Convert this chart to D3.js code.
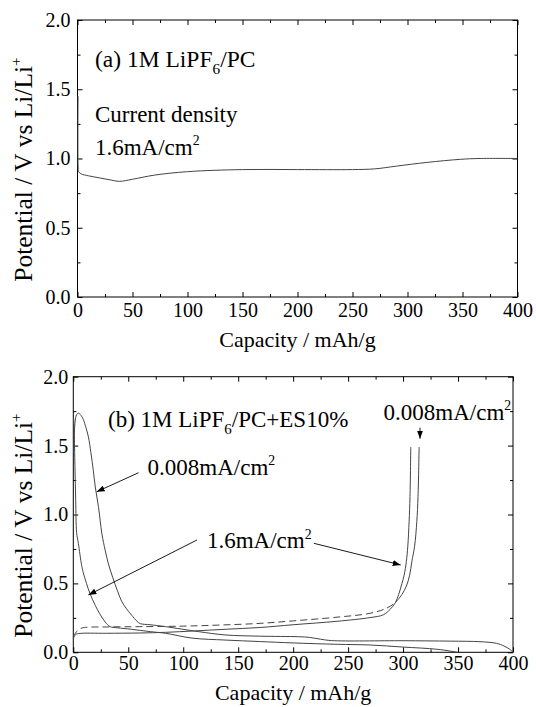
<!DOCTYPE html>
<html>
<head>
<meta charset="utf-8">
<script src="https://cdn.jsdelivr.net/npm/d3@7"></script>
<style>
  body { margin: 0; background: #fff; }
  svg text { font-family: "Liberation Serif", "Times New Roman", serif; fill: #000; }
</style>
</head>
<body>
<div id="chart"></div>
<script>
// (a) 1M LiPF6/PC, 1.6 mA/cm2
var topCap = [0.5, 0.6, 1, 3, 10, 20, 30, 38, 50, 70, 100, 150, 200, 250, 270, 290, 318, 348, 365, 400];
var topV   = [1.45, 0.93, 0.905, 0.89, 0.875, 0.86, 0.845, 0.835, 0.85, 0.88, 0.905, 0.92, 0.92, 0.92, 0.925, 0.945, 0.972, 0.994, 1.0, 1.0];

// (b) 1M LiPF6/PC+ES10%
// discharge, 1.6 mA/cm2
var disFastCap = [0.3, 0.8, 1.5, 2.2, 3, 4.6, 7.6, 9, 12, 15, 20, 24, 29, 33.5, 40, 53, 70, 84, 108, 138, 170, 200, 240, 270, 300, 331, 349.5];
var disFastV   = [1.7, 1.6, 1.35, 1.1, 0.87, 0.79, 0.63, 0.58, 0.5, 0.43, 0.34, 0.28, 0.22, 0.186, 0.178, 0.167, 0.15, 0.138, 0.103, 0.089, 0.078, 0.068, 0.058, 0.053, 0.038, 0.022, 0];
// discharge, 0.008 mA/cm2
var disSlowCap = [0.3, 1.5, 3, 4.6, 7, 9.1, 11.5, 13.7, 16, 18.2, 20, 23, 26, 29, 32, 36, 40, 44, 48, 53, 58, 61, 70, 84, 114, 138, 170, 205, 215, 225, 235, 300, 343, 370, 385, 392, 397, 400];
var disSlowV   = [1.45, 1.66, 1.725, 1.735, 1.72, 1.69, 1.63, 1.565, 1.45, 1.32, 1.2, 1.05, 0.86, 0.74, 0.64, 0.54, 0.45, 0.37, 0.32, 0.27, 0.225, 0.208, 0.2, 0.186, 0.15, 0.126, 0.117, 0.113, 0.108, 0.095, 0.085, 0.084, 0.081, 0.077, 0.065, 0.045, 0.022, 0];
// charge, 1.6 mA/cm2
var chgFastCap = [0, 2, 5, 30, 60, 84, 110, 138, 170, 200, 240, 270, 282, 288, 293, 296, 299, 301, 303, 304.3, 305.5, 306.3, 307];
var chgFastV   = [0.1, 0.128, 0.136, 0.138, 0.14, 0.145, 0.155, 0.167, 0.18, 0.2, 0.225, 0.252, 0.272, 0.31, 0.36, 0.42, 0.5, 0.56, 0.66, 0.77, 0.95, 1.13, 1.49];
// charge, 0.008 mA/cm2 (dashed plateau, then the steep rise)
var chgSlowCap = [0, 3, 6, 10, 30, 60, 100, 134, 170, 200, 240, 270, 285, 293];
var chgSlowV   = [0.115, 0.15, 0.17, 0.18, 0.184, 0.186, 0.19, 0.198, 0.21, 0.228, 0.255, 0.283, 0.32, 0.36];
var riseSlowCap = [293, 299, 303, 306, 308, 310.5, 312.5, 313.6, 314.6];
var riseSlowV   = [0.36, 0.42, 0.48, 0.56, 0.66, 0.77, 0.95, 1.13, 1.49];

var xTicks = [0, 50, 100, 150, 200, 250, 300, 350, 400];
var xMinor = [25, 75, 125, 175, 225, 275, 325, 375];
var yTicks = [0, 0.5, 1.0, 1.5, 2.0];
var yMinor = [0.25, 0.75, 1.25, 1.75];

function zip(a, b) { return a.map(function(d, i) { return [d, b[i]]; }); }

var W = 536, H = 707;
var svg = d3.select("#chart").append("svg")
    .attr("width", W)
    .attr("height", H);

svg.append("defs").append("marker")
    .attr("id", "arrow")
    .attr("viewBox", "0 0 8 6")
    .attr("refX", 8).attr("refY", 3)
    .attr("markerWidth", 8).attr("markerHeight", 6)
    .attr("markerUnits", "userSpaceOnUse")
    .attr("orient", "auto")
    .append("path")
    .attr("d", "M0,0 L8,3 L0,6 z")
    .attr("fill", "#000");

// text with sub / superscripts
function rich(g, x, y, parts, size) {
  var t = g.append("text").attr("x", x).attr("y", y).attr("font-size", size);
  var shift = 0;
  parts.forEach(function(p) {
    var s = t.append("tspan").text(p[0]);
    var target = 0;
    if (p[1] === "sub") { target = size * 0.32; s.attr("font-size", size * 0.65); }
    if (p[1] === "sup") { target = -size * 0.42; s.attr("font-size", size * 0.6); }
    s.attr("dy", target - shift);
    shift = target;
  });
  return t;
}

function panel(box, opts) {
  var x = d3.scaleLinear().domain([0, 400]).range([box.left, box.right]);
  var y = d3.scaleLinear().domain([0, 2]).range([box.bottom, box.top]);
  var g = svg.append("g");

  function ax(axis, tr, vals, size, fmt, pad) {
    var a = g.append("g").attr("transform", tr)
        .call(axis.tickValues(vals).tickSize(-size).tickSizeOuter(0).tickPadding(pad).tickFormat(fmt));
    a.select(".domain").remove();
    a.selectAll("line").attr("stroke", "#000");
    a.selectAll("text").attr("font-size", 20).style("font-family", "Liberation Serif");
    return a;
  }
  var none = function() { return ""; };
  ax(d3.axisBottom(x), "translate(0," + box.bottom + ")", xTicks, 5, d3.format("d"), opts.xPad);
  ax(d3.axisBottom(x), "translate(0," + box.bottom + ")", xMinor, 3, none, 0);
  ax(d3.axisTop(x), "translate(0," + box.top + ")", xTicks, 5, none, 0);
  ax(d3.axisTop(x), "translate(0," + box.top + ")", xMinor, 3, none, 0);
  ax(d3.axisLeft(y), "translate(" + box.left + ",0)", yTicks, 5, d3.format(".1f"), opts.yPad);
  ax(d3.axisLeft(y), "translate(" + box.left + ",0)", yMinor, 3, none, 0);
  ax(d3.axisRight(y), "translate(" + box.right + ",0)", yTicks, 5, none, 0);
  ax(d3.axisRight(y), "translate(" + box.right + ",0)", yMinor, 3, none, 0);

  g.append("rect")
      .attr("x", box.left).attr("y", box.top)
      .attr("width", box.right - box.left).attr("height", box.bottom - box.top)
      .attr("fill", "none").attr("stroke", "#000").attr("stroke-width", 1);

  g.append("text")
      .attr("x", (box.left + box.right) / 2)
      .attr("y", opts.titleY)
      .attr("text-anchor", "middle")
      .attr("font-size", 22)
      .text("Capacity / mAh/g");

  rich(g, 0, 0, [["Potential / V vs Li/Li", ""], ["+", "sup"]], 25.5)
      .attr("text-anchor", "middle")
      .attr("transform", "translate(32," + ((box.top + box.bottom) / 2 + 11) + ") rotate(-90)");

  var line = d3.line()
      .curve(d3.curveCatmullRom.alpha(0.5))
      .x(function(d) { return x(d[0]); })
      .y(function(d) { return y(d[1]); });

  return {x: x, y: y, g: g, line: line};
}

// ---- (a)
var pa = panel({left: 77.5, right: 517.5, top: 20, bottom: 297}, {xPad: 6, yPad: 7, titleY: 347});
pa.g.append("path")
    .datum(zip(topCap, topV))
    .attr("d", pa.line)
    .attr("fill", "none").attr("stroke", "#444").attr("stroke-width", 1);

rich(pa.g, pa.x(15.9), pa.y(1.663), [["(a) 1M LiPF", ""], ["6", "sub"], ["/PC", ""]], 23.5);
rich(pa.g, pa.x(15.9), pa.y(1.266), [["Current density", ""]], 23);
rich(pa.g, pa.x(15.9), pa.y(1.025), [["1.6mA/cm", ""], ["2", "sup"]], 23);

// ---- (b)
var pb = panel({left: 73.3, right: 513, top: 376.7, bottom: 652.3}, {xPad: 4, yPad: 5, titleY: 700});
var curves = [
  {d: zip(disFastCap, disFastV), dash: null},
  {d: zip(disSlowCap, disSlowV), dash: null},
  {d: zip(chgFastCap, chgFastV), dash: null},
  {d: zip(chgSlowCap, chgSlowV), dash: "7,4"},
  {d: zip(riseSlowCap, riseSlowV), dash: null}
];
pb.g.selectAll(".curve").data(curves).enter().append("path")
    .attr("class", "curve")
    .attr("d", function(c) { return pb.line(c.d); })
    .attr("fill", "none").attr("stroke", "#444").attr("stroke-width", 1)
    .attr("stroke-dasharray", function(c) { return c.dash; });

rich(pb.g, pb.x(31.6), pb.y(1.637), [["(b) 1M LiPF", ""], ["6", "sub"], ["/PC+ES10%", ""]], 23);
rich(pb.g, pb.x(67.6), pb.y(1.287), [["0.008mA/cm", ""], ["2", "sup"]], 23);
rich(pb.g, pb.x(121.6), pb.y(0.755), [["1.6mA/cm", ""], ["2", "sup"]], 23);
rich(pb.g, pb.x(282.3), pb.y(1.686), [["0.008mA/cm", ""], ["2", "sup"]], 23);

var arrows = [
  [[59.3, 1.303], [21.3, 1.165]],
  [[112.5, 0.815], [13.7, 0.416]],
  [[218.8, 0.791], [297.8, 0.634]],
  [[315.4, 1.63], [315.4, 1.55]]
];
pb.g.selectAll(".arrow").data(arrows).enter().append("line")
    .attr("class", "arrow")
    .attr("x1", function(a) { return pb.x(a[0][0]); })
    .attr("y1", function(a) { return pb.y(a[0][1]); })
    .attr("x2", function(a) { return pb.x(a[1][0]); })
    .attr("y2", function(a) { return pb.y(a[1][1]); })
    .attr("stroke", "#000").attr("stroke-width", 0.9)
    .attr("marker-end", "url(#arrow)");
</script>
</body>
</html>
